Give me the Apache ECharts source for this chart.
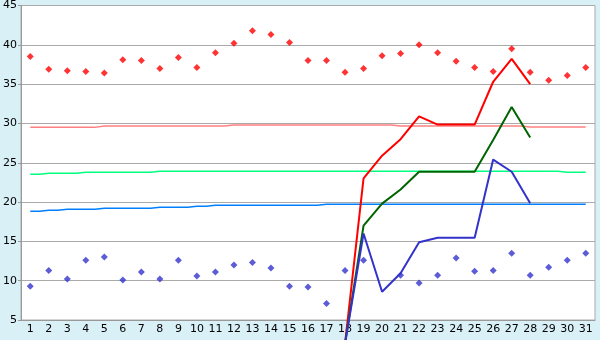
<!DOCTYPE html>
<html>
<head>
<meta charset="utf-8">
<script src="https://cdn.jsdelivr.net/npm/echarts@6/dist/echarts.min.js"></script>
<style>
html,body{margin:0;padding:0;background:#d9f0f7;}
#c{width:600px;height:340px;}
</style>
</head>
<body>
<div id="c"></div>
<script>
const days = Array.from({length:31},(_,i)=>String(i+1));
const yTicks = [5,10,15,20,25,30,35,40,45];

const maxPoints = [38.5,36.9,36.7,36.6,36.4,38.1,38.0,37.0,38.4,37.1,
                   39.0,40.2,41.8,41.3,40.3,38.0,38.0,36.5,37.0,38.6,
                   38.9,40.0,39.0,37.9,37.1,36.6,39.5,36.5,35.5,36.1,37.1];
const minPoints = [9.3,11.3,10.2,12.6,13.0,10.1,11.1,10.2,12.6,10.6,
                   11.1,12.0,12.3,11.6,9.3,9.2,7.1,11.3,12.6,null,
                   10.7,9.7,10.7,12.9,11.2,11.3,13.5,10.7,11.7,12.6,13.5];
const avgHigh = [29.5,29.5,29.5,29.5,29.66,29.66,29.66,29.66,29.66,29.66,
                 29.66,29.79,29.79,29.79,29.79,29.79,29.79,29.79,29.79,29.79,
                 29.66,29.66,29.66,29.66,29.66,29.66,29.66,29.54,29.54,29.54,29.54];
const avgMid = [23.53,23.65,23.65,23.78,23.78,23.78,23.78,23.91,23.91,23.91,
                23.91,23.91,23.91,23.91,23.91,23.91,23.91,23.91,23.91,23.91,
                23.91,23.91,23.91,23.91,23.91,23.91,23.91,23.91,23.91,23.78,23.78];
const avgLow = [18.82,18.95,19.08,19.08,19.21,19.21,19.21,19.33,19.33,19.46,
                19.59,19.59,19.59,19.59,19.59,19.59,19.71,19.71,19.71,19.71,
                19.71,19.71,19.71,19.71,19.71,19.71,19.71,19.71,19.71,19.71,19.71];
const N = null;
const redLine =   [N,N,N,N,N,N,N,N,N,N,N,N,N,N,N,N,N,2,23.0,25.9,28.0,30.9,29.85,29.85,29.85,35.3,38.2,35.0,N,N,N];
const greenLine = [N,N,N,N,N,N,N,N,N,N,N,N,N,N,N,N,N,2,17.0,19.8,21.6,23.86,23.86,23.86,23.86,27.9,32.1,28.2,N,N,N];
const blueLine =  [N,N,N,N,N,N,N,N,N,N,N,N,N,N,N,N,N,2,16.0,8.6,10.95,14.9,15.47,15.47,15.47,25.4,23.86,19.84,N,N,N];

const chart = echarts.init(document.getElementById('c'), null, {renderer:'canvas'});
const font = 'DejaVu Sans';
function line(data, color, width, step){
  return {type:'line', data, symbol:'none', step: step||false, clip:false,
    lineStyle:{color, width}, itemStyle:{color}, connectNulls:false, animation:false, z:2};
}
function pts(data, color){
  return {type:'scatter', data, symbol:'diamond', symbolSize:7, itemStyle:{color}, animation:false, z:3};
}
chart.setOption({
  backgroundColor:'#d9f0f7',
  animation:false,
  grid:{left:21, right:5, top:5, bottom:20, show:true, backgroundColor:'#ffffff', borderColor:'#aaaaaa', borderWidth:1},
  xAxis:{type:'category', data:days, boundaryGap:true,
    axisLine:{lineStyle:{color:'#999999'}},
    axisTick:{alignWithLabel:true, length:6, lineStyle:{color:'#999999'}},
    axisLabel:{interval:0, color:'#000', fontFamily:font, fontSize:11, margin:4}},
  yAxis:{type:'value', min:5, max:45, interval:5,
    axisLine:{show:true, lineStyle:{color:'#999999'}},
    axisTick:{show:true, length:3, lineStyle:{color:'#999999'}},
    splitLine:{lineStyle:{color:'#aaaaaa'}},
    axisLabel:{color:'#000', fontFamily:font, fontSize:11, margin:4,
      formatter:v=>yTicks.includes(v)?String(v):''}},
  series:[
    line(avgHigh,'#ff8080',1.5,'middle'),
    line(avgMid,'#00ff80',1.5,'middle'),
    line(avgLow,'#0080ff',1.5,'middle'),
    pts(maxPoints,'#ff0000'),
    pts(minPoints,'#3333cc'),
    Object.assign(line(redLine,'#ff0000',2),{z:4}),
    Object.assign(line(greenLine,'#006400',2),{z:4}),
    Object.assign(line(blueLine,'#3333cc',2),{z:4})
  ]
});
</script>
</body>
</html>
